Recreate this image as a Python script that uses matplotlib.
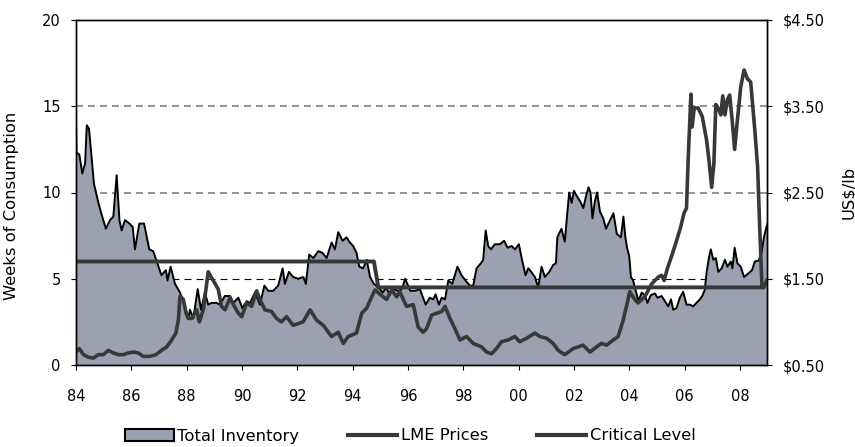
import matplotlib
matplotlib.use("Agg")
import matplotlib.pyplot as plt
from matplotlib.patches import Patch
from matplotlib.lines import Line2D

# Total inventory, weeks of consumption
inv_year = [1984.0, 1984.02, 1984.12, 1984.23, 1984.33, 1984.39, 1984.47, 1984.57, 1984.65, 1984.81,
            1984.93, 1985.08, 1985.23, 1985.35, 1985.47, 1985.57, 1985.65, 1985.77, 1985.93, 1986.05,
            1986.13, 1986.29, 1986.46, 1986.65, 1986.79, 1986.94, 1987.09, 1987.25, 1987.31, 1987.42,
            1987.58, 1987.76, 1987.94, 1988.06, 1988.12, 1988.24, 1988.40, 1988.52, 1988.66, 1988.78,
            1988.90, 1989.08, 1989.20, 1989.38, 1989.57, 1989.69, 1989.87, 1990.01, 1990.17, 1990.29,
            1990.47, 1990.65, 1990.81, 1990.95, 1991.13, 1991.31, 1991.47, 1991.55, 1991.70, 1991.85,
            1992.03, 1992.22, 1992.31, 1992.43, 1992.58, 1992.76, 1992.91, 1993.06, 1993.24, 1993.36,
            1993.48, 1993.64, 1993.78, 1993.90, 1994.02, 1994.14, 1994.24, 1994.38, 1994.51, 1994.63,
            1994.77, 1994.93, 1995.09, 1995.21, 1995.33, 1995.47, 1995.66, 1995.78, 1995.90, 1996.08,
            1996.26, 1996.43, 1996.49, 1996.64, 1996.79, 1996.91, 1997.00, 1997.12, 1997.22, 1997.34,
            1997.46, 1997.60, 1997.79, 1997.94, 1998.08, 1998.24, 1998.36, 1998.48, 1998.64, 1998.72,
            1998.81, 1998.90, 1999.00, 1999.14, 1999.32, 1999.48, 1999.60, 1999.75, 1999.87, 2000.01,
            2000.11, 2000.25, 2000.35, 2000.41, 2000.59, 2000.71, 2000.83, 2000.95, 2001.11, 2001.25,
            2001.35, 2001.40, 2001.55, 2001.67, 2001.76, 2001.83, 2001.92, 2002.00, 2002.10, 2002.22,
            2002.34, 2002.44, 2002.53, 2002.60, 2002.67, 2002.76, 2002.84, 2002.94, 2003.06, 2003.16,
            2003.31, 2003.43, 2003.55, 2003.70, 2003.79, 2003.86, 2003.92, 2004.00, 2004.06, 2004.14,
            2004.22, 2004.33, 2004.45, 2004.56, 2004.66, 2004.78, 2004.93, 2005.02, 2005.17, 2005.29,
            2005.41, 2005.51, 2005.59, 2005.71, 2005.83, 2005.95, 2006.07, 2006.19, 2006.31, 2006.43,
            2006.55, 2006.64, 2006.73, 2006.80, 2006.89, 2006.95, 2007.04, 2007.13, 2007.22, 2007.34,
            2007.46, 2007.55, 2007.67, 2007.73, 2007.81, 2007.91, 2008.03, 2008.15, 2008.30, 2008.44,
            2008.54, 2008.68, 2008.78, 2008.87, 2008.96, 2009.0]
inv_weeks = [14.3, 12.3, 12.2, 11.1, 11.7, 13.9, 13.7, 11.9, 10.5, 9.4,
             8.7, 7.9, 8.4, 8.6, 11.0, 8.4, 7.8, 8.4, 8.2, 8.0,
             6.7, 8.2, 8.2, 6.7, 6.6, 5.9, 5.2, 5.5, 4.9, 5.7,
             4.7, 4.2, 3.4, 2.7, 3.2, 2.7, 4.4, 3.2, 4.2, 3.5,
             3.6, 3.6, 3.5, 4.0, 4.0, 3.6, 3.9, 3.3, 3.7, 3.6,
             4.2, 3.5, 4.6, 4.3, 4.3, 4.6, 5.6, 4.7, 5.4, 5.1,
             5.0, 5.1, 4.7, 6.4, 6.2, 6.6, 6.5, 6.2, 7.1, 6.7,
             7.7, 7.2, 7.4, 7.1, 6.9, 6.5, 5.7, 5.6, 6.1, 5.1,
             4.7, 4.5, 4.2, 4.5, 4.1, 4.4, 4.3, 4.4, 5.0, 4.3,
             4.3, 4.4, 4.15, 3.5, 3.9, 3.8, 4.1, 3.5, 3.9, 3.8,
             4.9, 4.7, 5.7, 5.2, 4.9, 4.6, 4.6, 5.6, 5.9, 6.1,
             7.8, 6.9, 6.7, 7.0, 7.0, 7.2, 6.8, 6.9, 6.7, 7.0,
             6.2, 5.2, 5.6, 5.5, 5.1, 4.5, 5.7, 5.1, 5.4, 5.8,
             5.9, 7.4, 7.9, 7.15, 8.8, 10.0, 9.4, 10.1, 9.8, 9.5,
             9.1, 9.8, 10.3, 10.0, 8.5, 9.5, 10.0, 8.9, 8.5, 7.9,
             8.4, 8.8, 7.6, 7.4, 8.6, 7.4, 6.8, 6.3, 5.1, 4.9,
             4.4, 3.7, 4.2, 4.05, 3.6, 4.05, 4.15, 3.9, 4.0, 3.7,
             3.4, 3.8, 3.2, 3.3, 3.9, 4.25, 3.5, 3.5, 3.4, 3.6,
             3.8, 4.0, 4.35, 5.4, 6.3, 6.7, 6.1, 6.2, 5.4, 5.6,
             6.1, 5.7, 6.0, 5.6, 6.8, 5.9, 5.7, 5.1, 5.3, 5.5,
             6.0, 6.05, 6.5, 7.4, 8.0, 8.2]

# LME copper price, US$/lb
price_year = [1984.0, 1984.12, 1984.27, 1984.45, 1984.63, 1984.81, 1984.99, 1985.17, 1985.35, 1985.53,
              1985.71, 1985.89, 1986.07, 1986.25, 1986.43, 1986.67, 1986.89, 1987.09, 1987.28, 1987.46,
              1987.61, 1987.70, 1987.76, 1987.88, 1987.98, 1988.06, 1988.18, 1988.36, 1988.46, 1988.60,
              1988.78, 1988.96, 1989.14, 1989.26, 1989.39, 1989.57, 1989.69, 1989.87, 1989.99, 1990.17,
              1990.35, 1990.53, 1990.65, 1990.83, 1991.07, 1991.25, 1991.43, 1991.61, 1991.85, 1992.21,
              1992.46, 1992.70, 1992.94, 1993.24, 1993.48, 1993.66, 1993.84, 1994.14, 1994.33, 1994.51,
              1994.69, 1994.81, 1994.99, 1995.23, 1995.41, 1995.59, 1995.71, 1995.83, 1995.95, 1996.19,
              1996.37, 1996.55, 1996.67, 1996.86, 1997.04, 1997.22, 1997.34, 1997.52, 1997.70, 1997.88,
              1998.12, 1998.36, 1998.66, 1998.84, 1999.02, 1999.20, 1999.38, 1999.62, 1999.86, 2000.04,
              2000.29, 2000.59, 2000.77, 2001.01, 2001.25, 2001.43, 2001.61, 2001.67, 2001.97, 2002.33,
              2002.58, 2002.82, 2003.00, 2003.18, 2003.42, 2003.60, 2003.78, 2003.90, 2004.02, 2004.20,
              2004.32, 2004.56, 2004.81, 2005.05, 2005.17, 2005.26, 2005.38, 2005.53, 2005.71, 2005.86,
              2005.98, 2006.07, 2006.13, 2006.23, 2006.27, 2006.35, 2006.49, 2006.64, 2006.80, 2006.88,
              2006.98, 2007.06, 2007.13, 2007.24, 2007.31, 2007.38, 2007.46, 2007.55, 2007.63, 2007.72,
              2007.81, 2007.91, 2008.03, 2008.15, 2008.27, 2008.39, 2008.54, 2008.64, 2008.72, 2008.80,
              2008.87, 2008.97]
price_usd = [0.65, 0.69, 0.62, 0.59, 0.58, 0.62, 0.62, 0.67, 0.64, 0.62,
             0.62, 0.64, 0.65, 0.64, 0.60, 0.60, 0.62, 0.67, 0.71, 0.79,
             0.87, 1.02, 1.30, 1.26, 1.10, 1.04, 1.04, 1.14, 1.00, 1.14,
             1.58, 1.48, 1.38, 1.18, 1.14, 1.28, 1.20, 1.10, 1.06, 1.22,
             1.18, 1.36, 1.26, 1.14, 1.12, 1.04, 1.00, 1.06, 0.96, 1.00,
             1.14, 1.02, 0.96, 0.83, 0.88, 0.75, 0.83, 0.87, 1.10, 1.16,
             1.29, 1.37, 1.32, 1.26, 1.37, 1.29, 1.35, 1.26, 1.18, 1.20,
             0.94, 0.88, 0.92, 1.08, 1.10, 1.12, 1.18, 1.04, 0.92, 0.79,
             0.83, 0.75, 0.71, 0.65, 0.63, 0.69, 0.77, 0.79, 0.83, 0.77,
             0.81, 0.87, 0.83, 0.81, 0.75, 0.67, 0.63, 0.62, 0.69, 0.73,
             0.65, 0.71, 0.75, 0.73, 0.79, 0.83, 1.02, 1.18, 1.35, 1.26,
             1.22, 1.29, 1.44, 1.52, 1.54, 1.48, 1.62, 1.76, 1.94, 2.10,
             2.26, 2.32, 2.88, 3.64, 3.26, 3.48, 3.48, 3.38, 3.10, 2.88,
             2.56, 2.84, 3.52, 3.46, 3.40, 3.62, 3.40, 3.58, 3.63, 3.34,
             3.00, 3.34, 3.72, 3.92, 3.82, 3.78, 3.22, 2.80, 2.06, 1.40,
             1.40, 1.48]

# Critical level, weeks of consumption
crit_year = [1984.0, 1994.77, 1994.93, 2008.88]
crit_weeks = [6.0, 6.0, 4.5, 4.5]

x_ticks = list(range(1984, 2009, 2))
x_labels = ["84", "86", "88", "90", "92", "94", "96", "98", "00", "02", "04", "06", "08"]
left_ticks = [0, 5, 10, 15, 20]
right_ticks = [0.5, 1.5, 2.5, 3.5, 4.5]
right_labels = ["$0.50", "$1.50", "$2.50", "$3.50", "$4.50"]

fill_color = "#9ba1b1"
line_dark = "#383838"

plt.rcParams["font.family"] = "DejaVu Sans"
plt.rcParams["font.size"] = 10.5
plt.rcParams["xtick.major.size"] = 3.8
plt.rcParams["ytick.major.size"] = 3.8
plt.rcParams["ytick.major.pad"] = 7.2

fig = plt.figure(figsize=(8.55, 4.47), dpi=100)
ax = fig.add_axes([76 / 855, 1 - 365 / 447, (767 - 76) / 855, (365 - 20) / 447])
ax2 = ax.twinx()

# gridlines behind the area
for y in [10, 15]:
    ax.axhline(y, color="#7f7f7f", lw=1.2, dashes=(4.2, 3.0), zorder=0.5)
ax.axhline(5, color="black", lw=0.8, dashes=(6.3, 4.5), zorder=0.5)

ax.fill_between(inv_year, inv_weeks, 0, color=fill_color, lw=0, zorder=1)
ax.plot(inv_year, inv_weeks, color="black", lw=1.4, zorder=2)
ax.plot(crit_year, crit_weeks, color=line_dark, lw=2.8, zorder=3, solid_capstyle="butt")

ax2.plot(price_year, price_usd, color=line_dark, lw=2.6, solid_joinstyle="round")

ax.set_xlim(1984, 2008.98)
ax.set_ylim(0, 20)
ax2.set_ylim(0.5, 4.5)

ax.set_xticks(x_ticks)
ax.set_xticklabels(x_labels)
ax.set_yticks(left_ticks)
ax2.set_yticks(right_ticks)
ax2.set_yticklabels(right_labels)

# x labels sit well below the axis in the original
for lab in ax.get_xticklabels():
    lab.set_verticalalignment("center")
ax.tick_params(axis="x", pad=18.7)

for a in (ax, ax2):
    for s in a.spines.values():
        s.set_linewidth(1.0)
        s.set_color("black")

ax.set_ylabel("Weeks of Consumption", fontsize=11.8)
ax.yaxis.set_label_coords(-0.083, 0.46)
ax2.set_ylabel("US$/lb", fontsize=11.8, labelpad=12)

handles = [
    Patch(facecolor=fill_color, edgecolor="black", lw=1.5),
    Line2D([], [], color=line_dark, lw=3),
    Line2D([], [], color=line_dark, lw=3),
]
fig.legend(handles, ["Total Inventory", "LME Prices", "Critical Level"],
           loc="center", bbox_to_anchor=(410 / 855, 1 - 436 / 447), ncol=3, frameon=False,
           fontsize=11.8, handlelength=3.0, handleheight=0.8, handletextpad=0.2,
           columnspacing=3.0, borderpad=0)

fig.savefig("out.png", dpi=100)
